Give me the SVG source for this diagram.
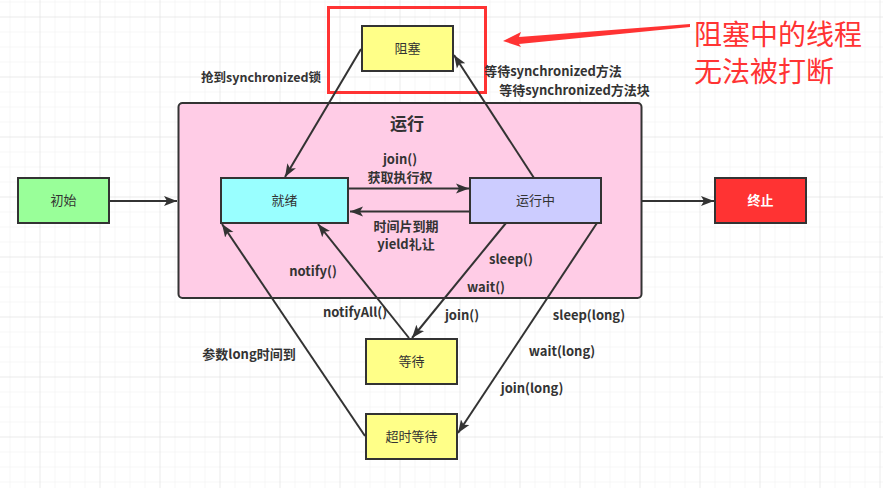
<svg xmlns="http://www.w3.org/2000/svg" width="883" height="488" viewBox="0 0 883 488">
<defs>
<pattern id="minor" x="9.5" y="1.5" width="15" height="15" patternUnits="userSpaceOnUse">
<path d="M0,0 H15 M0,0 V15" fill="none" stroke="#f0f0f0" stroke-width="1"/>
</pattern>
<pattern id="major" x="39.5" y="16.5" width="60" height="60" patternUnits="userSpaceOnUse">
<path d="M0,0 H60 M0,0 V60" fill="none" stroke="#e2e2e2" stroke-width="1"/>
</pattern>
<marker id="arr" markerUnits="userSpaceOnUse" markerWidth="14" markerHeight="12" refX="13" refY="6" orient="auto">
<path d="M0,1 L13,6 L0,11 L3,6 Z" fill="#333"/>
</marker>
<style>
.node{stroke:#333;stroke-width:2}
.t{font-family:"Noto Sans CJK SC","Microsoft YaHei",sans-serif;font-size:13px;fill:#333;text-anchor:middle}
.lbl{font-family:"Noto Sans CJK SC",sans-serif;font-size:13px;font-weight:bold;fill:#333;text-anchor:middle}
.c{fill:none;stroke:#333;stroke-width:2}
</style>
</defs>
<rect width="883" height="488" fill="#fff"/>
<rect width="883" height="488" fill="url(#minor)"/>
<rect width="883" height="488" fill="url(#major)"/>

<g id="running-group">
<rect x="178.5" y="103" width="463" height="195" rx="4" fill="#ffcce6" stroke="#333" stroke-width="2"/>
<text x="407" y="130" class="t" style="font-size:17px;font-weight:bold">运行</text>
</g>

<g id="blocked">
<rect class="node" x="362" y="26" width="91" height="45" fill="#ffff88"/>
<text class="t" x="407.5" y="53">阻塞</text>
</g>
<g id="highlight">
<rect x="328.5" y="7.5" width="157" height="85" fill="none" stroke="#ff3333" stroke-width="3"/>
</g>
<g id="init">
<rect class="node" x="18" y="178" width="91" height="45" fill="#99ff99"/>
<text class="t" x="63.5" y="205">初始</text>
</g>
<g id="ready">
<rect class="node" x="221" y="178" width="127" height="45" fill="#99ffff"/>
<text class="t" x="284.5" y="205">就绪</text>
</g>
<g id="running">
<rect class="node" x="470" y="178" width="131" height="45" fill="#ccccff"/>
<text class="t" x="535.5" y="205">运行中</text>
</g>
<g id="terminated">
<rect class="node" x="715" y="178" width="91" height="45" fill="#ff3333"/>
<text class="t" x="760.5" y="205" style="fill:#fff;font-weight:bold">终止</text>
</g>
<g id="waiting">
<rect class="node" x="366" y="339" width="91" height="45" fill="#ffff88"/>
<text class="t" x="411.5" y="366">等待</text>
</g>
<g id="timed-waiting">
<rect class="node" x="366" y="414" width="91" height="45" fill="#ffff88"/>
<text class="t" x="411.5" y="441">超时等待</text>
</g>

<g id="connectors">
<line class="c" x1="109" y1="201" x2="177" y2="201" marker-end="url(#arr)"/>
<line class="c" x1="642" y1="201" x2="714" y2="201" marker-end="url(#arr)"/>
<line class="c" x1="361" y1="49" x2="285" y2="177" marker-end="url(#arr)"/>
<line class="c" x1="534" y1="178" x2="454" y2="55" marker-end="url(#arr)"/>
<line class="c" x1="349" y1="188.5" x2="469" y2="188.5" marker-end="url(#arr)"/>
<line class="c" x1="470" y1="211.5" x2="350" y2="211.5" marker-end="url(#arr)"/>
<line class="c" x1="506" y1="223" x2="412" y2="338" marker-end="url(#arr)"/>
<line class="c" x1="409" y1="338" x2="318" y2="224" marker-end="url(#arr)"/>
<line class="c" x1="365" y1="436" x2="222" y2="224" marker-end="url(#arr)"/>
<line class="c" x1="597" y1="223" x2="458" y2="433" marker-end="url(#arr)"/>
</g>

<g id="labels">
<text class="lbl" x="261" y="82" style="font-size:12.5px">抢到synchronized锁</text>
<text class="lbl" x="553" y="76">等待synchronized方法</text>
<text class="lbl" x="574.5" y="95">等待synchronized方法块</text>
<text class="lbl" x="400" y="164">join()</text>
<text class="lbl" x="400" y="181.5">获取执行权</text>
<text class="lbl" x="406" y="231">时间片到期</text>
<text class="lbl" x="406" y="248.5">yield礼让</text>
<text class="lbl" x="313" y="276">notify()</text>
<text class="lbl" x="355" y="316.5">notifyAll()</text>
<text class="lbl" x="511" y="264">sleep()</text>
<text class="lbl" x="486" y="291.5">wait()</text>
<text class="lbl" x="462" y="320">join()</text>
<text class="lbl" x="589" y="320">sleep(long)</text>
<text class="lbl" x="562" y="356">wait(long)</text>
<text class="lbl" x="532" y="392.5">join(long)</text>
<text class="lbl" x="249" y="359">参数long时间到</text>
</g>

<g id="callout">
<polygon points="503,41 521,32 519,37 690,24 690,27 519,44 521,47" fill="#ff3333"/>
<text x="694" y="45" style="font-family:'Noto Sans CJK SC',sans-serif;font-size:28px;fill:#ff3333">阻塞中的线程</text>
<text x="694" y="82" style="font-family:'Noto Sans CJK SC',sans-serif;font-size:28px;fill:#ff3333">无法被打断</text>
</g>
</svg>
